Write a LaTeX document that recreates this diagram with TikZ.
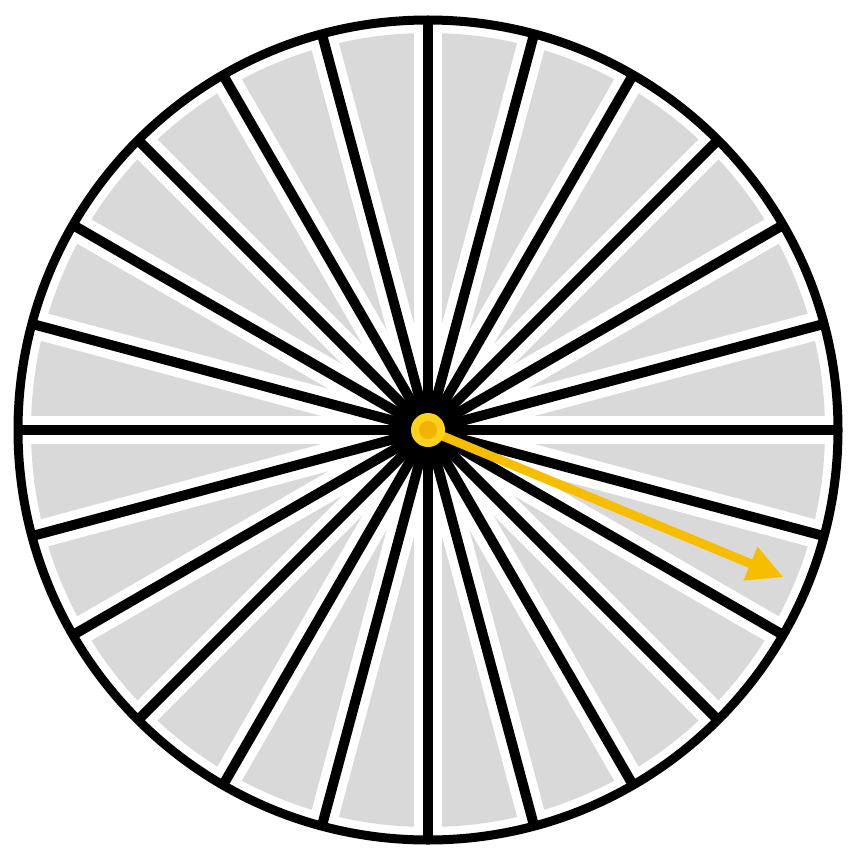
\documentclass[tikz,border=0pt]{standalone}
\usetikzlibrary{arrows.meta,calc}
\definecolor{wedge}{HTML}{D9D9D9}
\definecolor{amber}{HTML}{F7BE00}
\definecolor{dotyel}{HTML}{FFD21A}
\definecolor{dotcore}{HTML}{F2B300}
\begin{document}
\begin{tikzpicture}[x=1pt,y=-1pt,
  spokegap/.style={white,line width=28pt},
  spokeline/.style={black,line width=10pt},
  rim/.style={black,line width=9pt}]
\useasboundingbox (0,0) rectangle (848,850);
\fill[white] (0,0) rectangle (848,850);
\coordinate (c) at (428,430);
\fill[wedge,rounded corners=3pt] (c) circle[radius=397];
\foreach \a in {0,15,...,165}{
  \draw[spokegap] ($(c)+(\a:410)$) -- ($(c)+(\a+180:410)$);
}
\foreach \a in {0,15,...,165}{
  \draw[spokeline] ($(c)+(\a:410)$) -- ($(c)+(\a+180:410)$);
}
\draw[rim] (c) circle[radius=410];
\fill[black] (c) circle[radius=30];
\coordinate (tip) at ($(c)+(22.5:385)$);
\draw[amber,line width=9pt,-{Triangle[length=36pt,width=34pt]}] (c) -- (tip);
\fill[dotyel] (c) circle[radius=17];
\fill[dotcore] (c) circle[radius=9];
\end{tikzpicture}
\end{document}
